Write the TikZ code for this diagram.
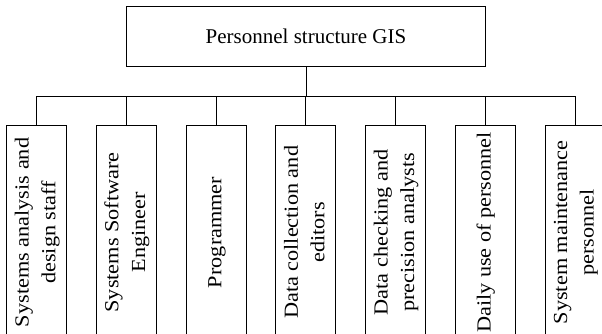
\documentclass[tikz,border=0pt]{standalone}
\usepackage{fontspec}
\setmainfont{Liberation Serif}
\newcommand{\vtext}[1]{\rotatebox{90}{\scalebox{1.06}[0.95]{\begin{tabular}{@{}c@{}}#1\end{tabular}}}}
\begin{document}
\begin{tikzpicture}[x=1pt,y=-1pt,
  rootbox/.style={draw, line width=1pt, minimum width=359pt, minimum height=60pt, inner sep=0pt, anchor=north},
  childbox/.style={draw, line width=0.8pt, minimum width=60pt, minimum height=214pt, inner sep=0pt, anchor=north},
  conn/.style={line width=0.8pt},
  every node/.style={font=\fontsize{21}{28}\selectfont}]
\useasboundingbox (0,0) rectangle (602,333);
\clip (0,0) rectangle (602,333);
\node[rootbox] (root) at (306,6) {Personnel structure GIS};
\node[childbox] (c1) at (36.7,125) {\vtext{Systems analysis and\\design staff}};
\node[childbox] (c2) at (126.4,125) {\vtext{Systems Software\\Engineer}};
\node[childbox] (c3) at (216.1,125) {\vtext{Programmer}};
\node[childbox] (c4) at (305.8,125) {\vtext{Data collection and\\editors}};
\node[childbox] (c5) at (395.5,125) {\vtext{Data checking and\\precision analysts}};
\node[childbox] (c6) at (485.2,125) {\vtext{Daily use of personnel}};
\node[childbox] (c7) at (575.0,125) {\vtext{System maintenance\\personnel}};
\coordinate (bar) at (306,96);
\draw[conn] (root.south) -- (bar);
\draw[conn] (c1.north) -- (c1.north |- bar) -- (c7.north |- bar) -- (c7.north);
\foreach \i in {2,...,6} {\draw[conn] (c\i.north) -- (c\i.north |- bar);}
\end{tikzpicture}
\end{document}
